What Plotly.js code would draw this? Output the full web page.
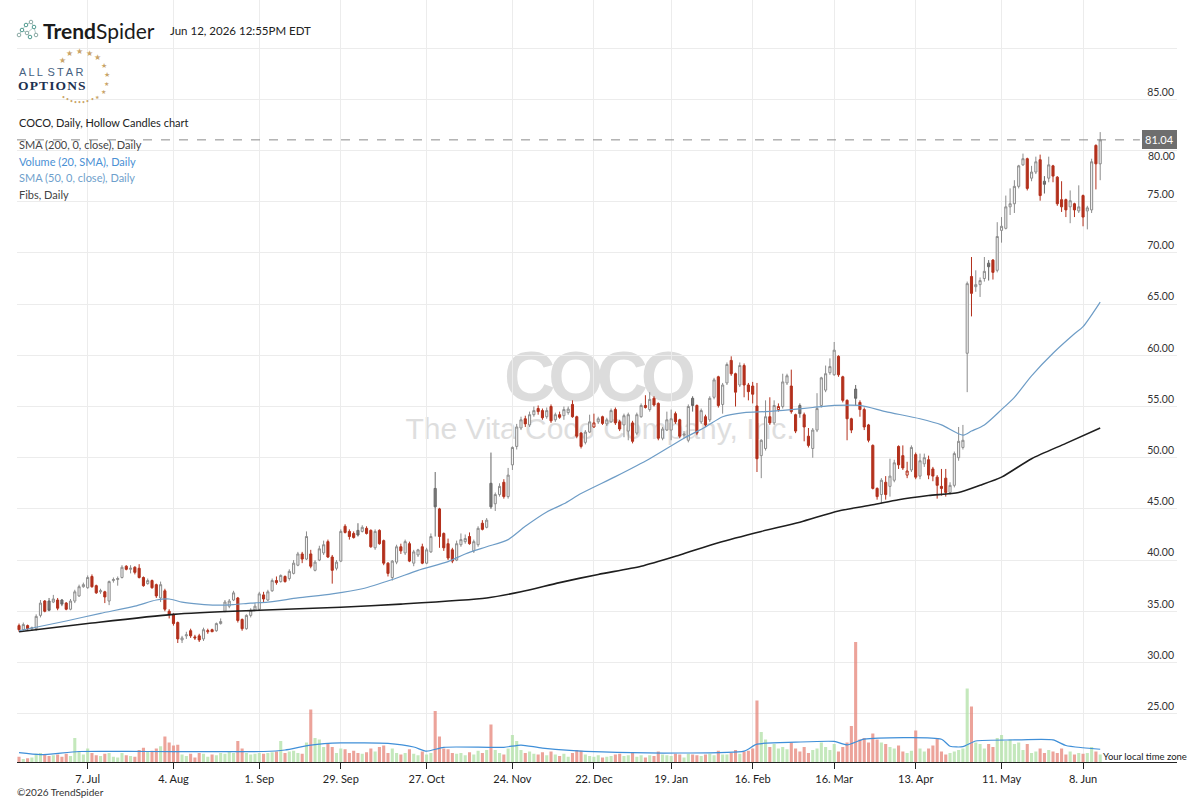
<!DOCTYPE html>
<html><head><meta charset="utf-8">
<script src="https://cdn.plot.ly/plotly-3.0.1.min.js"></script>
<style>
html,body{margin:0;padding:0;background:#fff;}
#wrap{position:relative;width:1200px;height:800px;overflow:hidden;background:#fff;}
.wm1{position:absolute;left:0;width:1200px;text-align:center;top:341px;line-height:1;font-family:'Liberation Sans',Arial,sans-serif;font-weight:bold;font-size:71px;color:#dcdcdc;letter-spacing:-7px;text-indent:-7px;}
.wm2{position:absolute;left:0;width:1200px;text-align:center;top:414px;line-height:1;font-family:'Liberation Sans',Arial,sans-serif;font-size:30px;color:#dedede;}
#chart{position:absolute;left:0;top:0;width:1200px;height:800px;}
</style></head>
<body>
<div id="wrap">
  <div class="wm1">COCO</div>
  <div class="wm2">The Vita Coco Company, Inc.</div>
  <div id="chart"></div>
</div>
<script>
// ---------- data ----------
const openP = [33.6,33.2,33.6,33.3,33.3,34.6,36.0,36.0,35.9,36.1,36.1,35.8,35.2,36.0,36.5,37.4,37.3,38.4,37.5,36.9,
36.9,36.0,38.0,38.1,38.3,39.4,39.1,39.3,39.2,38.3,37.7,38.0,37.6,36.3,37.0,35.0,34.7,33.9,32.2,32.6,
33.1,32.5,32.6,32.3,33.0,33.2,33.1,33.8,35.0,35.5,36.1,36.3,34.2,33.3,34.6,35.1,35.2,36.6,36.1,37.0,
38.0,37.9,38.4,38.2,38.7,39.5,40.6,40.1,40.6,39.0,40.0,40.7,41.8,40.3,39.2,39.9,43.3,42.8,42.6,42.9,
42.8,43.1,42.9,41.2,42.9,41.9,39.7,38.3,39.8,41.3,40.7,41.6,39.7,40.5,41.3,39.7,40.8,47.0,45.0,42.6,
41.6,41.0,40.0,41.5,41.8,42.3,40.9,41.5,43.6,43.2,47.5,45.5,46.4,47.6,46.2,49.3,51.1,52.9,53.8,53.2,
54.2,54.8,54.6,54.0,55.0,53.7,54.2,54.1,54.4,55.2,54.0,52.4,51.5,52.5,53.0,53.5,54.0,53.3,53.5,54.7,
53.5,53.2,52.6,53.4,52.4,54.0,55.1,54.7,55.8,55.3,51.9,52.7,52.7,54.3,53.7,52.2,51.7,55.8,55.1,53.5,
54.0,53.7,55.9,57.9,55.2,57.3,59.5,58.2,57.1,59.0,57.1,57.0,55.05,50.2,50.9,54.0,53.4,54.7,55.0,57.3,
57.0,54.2,55.1,54.2,52.1,50.9,52.7,55.1,56.6,58.3,58.1,59.9,57.9,55.6,53.8,56.7,55.4,54.7,53.2,51.2,
47.0,46.4,47.6,47.2,47.8,51.1,50.2,48.3,48.8,50.3,48.2,49.4,49.8,48.9,48.1,47.2,48.0,46.6,47.3,50.0,
51.0,60.2,67.7,66.7,66.9,67.5,69.0,69.3,68.3,72.2,72.4,74.5,74.8,76.5,78.6,79.2,77.3,77.9,79.1,77.0,
77.3,78.5,77.4,75.2,75.2,74.5,74.8,74.1,75.6,74.1,74.2,80.5,78.7];
const highP = [33.8,33.9,33.7,33.5,34.7,36.1,36.1,36.3,36.6,36.3,36.2,35.9,36.2,37.1,37.6,37.8,38.5,38.6,37.6,37.2,
37.0,38.0,38.3,38.4,39.5,39.5,39.5,39.4,39.6,38.4,38.2,38.1,37.7,37.9,37.2,35.2,34.8,34.0,32.6,33.0,
33.3,32.7,32.8,33.4,33.3,33.3,33.9,34.3,36.1,36.2,37.0,36.4,34.3,34.7,35.3,35.8,36.9,36.9,37.1,38.2,
38.4,38.6,38.5,39.1,40.0,40.8,40.8,42.8,41.0,40.0,41.4,41.9,42.0,40.5,40.0,43.0,43.5,43.0,42.8,43.6,
43.4,43.3,43.0,43.0,43.0,42.0,39.8,40.0,41.5,41.6,42.0,41.8,41.0,41.1,41.6,41.2,42.6,48.6,45.1,42.7,
42.1,41.2,41.9,42.6,42.5,42.7,42.0,43.3,43.9,44.1,50.5,46.6,47.5,47.9,49.0,51.1,53.3,54.0,54.1,54.5,
55.0,55.1,54.8,54.9,55.2,54.4,54.5,55.0,55.0,55.6,54.1,52.5,52.7,54.2,54.3,54.0,54.1,53.9,54.8,54.9,
53.7,54.3,54.4,53.6,54.4,55.3,56.1,56.4,56.0,55.4,53.0,54.5,54.7,54.5,53.8,52.6,55.2,56.0,55.2,54.8,
54.2,56.0,57.8,58.0,57.3,59.3,59.9,58.3,59.3,59.2,57.3,57.4,57.3,51.8,55.6,55.9,55.6,55.3,58.2,58.2,
58.6,54.3,55.3,54.4,52.9,52.9,56.3,57.9,59.0,59.7,61.3,60.0,58.0,55.7,53.9,57.1,55.6,54.9,53.3,51.3,
47.1,48.0,48.2,49.9,49.8,51.2,51.2,49.6,51.2,50.5,50.4,50.4,50.2,49.1,48.3,48.9,48.9,47.6,50.6,53.0,
53.2,67.2,69.6,68.3,67.6,69.6,69.3,69.4,73.0,73.5,75.6,76.3,77.1,78.6,79.7,79.3,78.5,79.4,79.6,77.5,
79.4,78.6,77.5,77.0,75.3,76.1,74.9,76.6,75.7,74.6,79.2,80.6,81.8];
const lowP = [33.0,33.1,33.1,33.1,33.1,34.4,34.9,35.0,35.8,35.1,35.5,35.1,35.1,35.8,36.4,37.3,37.2,37.3,36.7,36.7,
35.8,35.6,37.8,37.5,38.2,39.0,38.7,38.6,38.2,37.4,37.6,37.2,36.3,35.9,35.0,34.3,33.6,31.9,31.9,32.3,
32.4,32.2,32.0,32.1,32.8,33.0,33.0,33.7,34.9,35.3,36.0,33.9,33.1,33.2,34.4,35.0,35.0,35.9,36.0,36.9,
37.6,37.8,37.8,38.0,38.6,39.4,39.7,40.0,39.2,38.9,39.9,40.5,40.2,37.7,39.0,39.8,42.6,42.0,42.1,42.3,
42.7,42.5,41.2,41.0,41.5,39.5,38.4,38.0,39.6,40.6,40.5,39.8,39.4,40.3,39.6,39.6,40.7,42.3,41.2,40.9,
40.0,39.7,39.9,41.3,41.6,41.5,40.7,41.3,42.9,43.1,45.0,44.8,46.2,46.0,46.0,48.8,50.8,52.7,53.0,53.0,
54.0,54.2,53.7,53.8,53.4,53.5,53.8,53.7,54.2,53.9,51.9,50.9,51.3,52.4,52.9,53.3,53.2,53.1,53.4,53.2,
52.6,52.0,51.7,51.4,52.2,53.9,54.8,54.5,55.0,51.7,51.7,52.6,51.7,53.3,51.9,51.9,51.5,54.5,52.2,53.3,
53.0,53.5,55.7,54.9,54.3,57.1,58.0,55.0,56.9,55.9,55.6,55.3,48.6,48.0,50.7,53.2,53.2,54.5,54.8,57.1,
54.3,52.4,53.9,51.6,51.0,50.0,52.5,54.9,56.4,58.1,58.0,57.9,55.4,51.7,52.4,55.1,54.0,52.7,51.5,46.9,
45.9,45.5,45.9,46.2,47.6,48.9,48.8,48.0,48.6,47.9,47.9,49.1,47.9,47.7,46.0,46.3,46.2,46.4,47.1,49.7,
50.8,56.4,63.8,66.2,65.7,67.2,67.3,67.4,68.1,71.0,72.3,73.7,73.9,76.3,78.5,76.1,77.0,77.7,75.1,75.8,
76.9,76.9,74.6,74.0,73.5,72.9,73.5,73.9,72.6,72.3,73.9,76.2,77.1];
const closeP = [33.2,33.7,33.3,33.4,34.5,35.8,35.0,35.1,36.2,35.3,35.7,35.2,36.0,36.9,37.4,37.6,38.3,37.4,36.8,37.0,
36.4,37.9,38.1,38.2,39.3,39.1,39.2,38.8,38.3,37.5,38.0,37.3,36.5,37.6,35.2,34.7,33.8,32.3,32.4,32.7,
32.6,32.4,32.2,33.2,33.1,33.0,33.8,34.0,35.9,36.0,36.8,34.1,33.3,34.6,35.1,35.5,36.7,36.2,36.9,38.0,
37.8,38.5,37.9,38.9,39.7,40.6,40.1,42.3,39.4,39.8,41.1,41.5,40.3,39.0,39.8,42.8,42.7,42.3,42.2,42.45,
43.2,42.6,41.3,42.8,41.6,39.7,38.7,39.9,41.3,40.9,41.8,39.9,40.8,41.0,39.7,41.0,42.3,45.2,42.3,41.2,
40.2,39.9,41.6,42.0,42.1,41.6,41.8,43.1,43.0,43.9,45.2,46.4,47.2,46.2,48.3,51.0,53.0,53.7,53.3,54.2,
54.6,54.5,53.9,54.6,53.6,54.2,53.95,54.7,54.75,54.0,52.1,51.1,52.5,53.5,53.4,53.8,53.35,53.7,54.6,53.4,
52.8,54.1,54.2,51.6,54.2,55.1,54.9,55.7,55.15,51.9,52.8,53.7,53.8,53.5,52.1,52.3,55.0,55.1,52.4,54.6,
53.2,55.8,57.6,55.1,57.1,59.1,58.2,56.4,59.0,57.1,56.45,56.2,49.9,51.7,54.0,53.4,55.1,55.0,57.4,58.0,
54.5,52.6,54.3,53.0,51.2,52.7,54.8,57.8,58.2,58.9,60.5,58.1,55.6,53.8,52.7,55.8,54.7,53.0,51.7,47.0,
46.2,47.8,46.4,48.2,49.5,49.3,49.0,48.7,51.0,48.1,49.7,50.0,48.3,48.2,47.3,47.0,46.6,47.3,50.4,51.6,
51.7,67.0,66.05,66.9,67.3,68.2,68.65,68.1,71.6,72.6,74.5,74.8,76.5,78.5,79.2,76.3,77.9,78.9,75.6,76.7,
78.6,77.5,74.8,74.5,74.2,75.1,74.2,74.5,73.5,74.4,78.9,78.7,81.04];
// volume in millions of shares
const volumeM = [0.35,0.2,0.25,0.3,0.55,0.6,0.5,0.4,0.45,0.5,
0.35,0.55,0.4,1.6,0.7,0.5,0.9,0.6,0.45,0.4,
0.55,0.6,0.35,0.3,0.6,0.45,0.4,0.35,0.8,0.95,
0.7,0.75,0.9,1.05,1.7,1.3,1.1,1.15,0.5,0.4,
0.55,0.3,0.6,0.55,0.35,0.5,0.45,0.6,0.55,0.7,
0.6,1.4,0.9,0.6,0.5,0.55,0.6,0.55,0.6,0.65,
0.7,1.4,0.6,0.7,0.75,0.6,0.55,1.3,3.5,1.6,
1.5,1.0,1.2,1.0,0.6,0.9,0.85,0.6,0.75,0.6,
0.55,0.65,0.9,0.7,1.0,1.1,0.6,0.9,0.6,0.5,
0.6,0.85,0.55,0.45,0.7,0.5,0.6,3.4,1.7,0.9,
0.85,0.6,0.55,0.6,0.45,0.65,0.5,0.75,0.6,0.8,
2.5,0.8,0.6,0.5,0.9,1.8,1.4,0.8,0.6,0.7,
0.55,0.5,0.65,0.45,0.7,0.5,0.4,0.55,0.35,0.6,
0.8,0.75,0.5,0.4,0.35,0.45,0.3,0.35,0.4,0.5,
0.55,0.4,0.45,0.6,0.35,0.45,0.3,0.45,0.4,0.7,
0.5,0.45,0.4,0.55,0.5,0.3,0.55,0.5,0.45,0.4,
0.5,0.55,0.45,0.75,0.5,0.5,0.6,0.8,0.55,0.7,
0.75,0.9,4.1,2.0,1.5,1.0,1.2,0.9,1.0,0.85,
1.3,0.9,0.7,1.0,0.6,0.8,0.9,1.3,1.0,0.8,
1.2,0.7,1.0,1.3,2.4,8.0,1.5,1.6,1.3,1.9,
1.5,1.3,1.2,1.0,0.9,1.1,0.7,0.6,0.75,2.1,
0.9,0.7,0.9,1.1,1.6,0.7,0.5,0.6,0.7,0.8,
0.9,4.9,3.7,1.3,1.2,0.9,1.2,1.0,1.6,1.8,
1.4,1.5,1.2,1.3,0.8,1.2,0.6,0.7,0.9,0.6,
0.8,0.7,0.6,0.9,0.5,0.7,0.5,0.6,0.55,0.6,
1.0,0.7,0.5];
// indicator lines read at sample sessions
const sma50Idx = [0,11,19,27,32,35,38,42,46,50,54,58,65,73,80,87,93,100,104,109,114,118,123,127,131,139,147,155,160,164,169,174,180,185,190,196,202,210,215,220,222,225,229,232,236,241,246,248,252];
const sma50Val = [33.1,34.05,34.8,35.5,36.1,36.2,35.9,35.7,35.6,35.65,35.8,35.9,36.3,36.7,37.2,38.1,39.0,39.85,40.6,41.3,42.0,43.3,44.7,45.5,46.5,48.15,49.9,51.9,53.0,54.0,54.4,54.5,54.7,54.9,55.1,55.1,54.5,53.8,53.2,52.2,52.6,53.2,54.7,55.9,58.0,60.2,62.1,62.8,65.2];
const sma200Idx = [0,16,36,56,75,89,109,117,126,135,145,154,163,173,182,191,199,205,212,219,224,229,236,244,252];
const sma200Val = [33.0,33.8,34.7,35.1,35.4,35.7,36.3,36.9,37.8,38.6,39.4,40.5,41.7,42.8,43.7,44.8,45.4,45.9,46.3,46.6,47.3,48.1,49.9,51.4,52.9];
const volSmaIdx = [0,5,14,30,57,62,68,75,86,92,95,99,113,117,122,136,154,169,172,181,190,193,197,215,217,220,223,232,241,244,248,252];
const volSmaVal = [0.62,0.49,0.7,0.7,0.7,0.8,1.13,1.27,1.24,1.0,0.72,0.98,0.98,1.13,0.93,0.67,0.6,0.72,1.19,1.32,1.37,1.14,1.52,1.52,1.05,1.02,1.4,1.47,1.47,1.1,0.95,0.85];
// calendar
const firstSession = '2025-06-11';
const holidays = ['2025-06-19','2025-07-04','2025-09-01','2025-11-27','2025-12-25','2026-01-01','2026-01-19','2026-02-16','2026-04-03','2026-05-25','2026-06-19','2026-07-03'];
const tickDates = ['2025-07-07','2025-08-04','2025-09-01','2025-09-29','2025-10-27','2025-11-24','2025-12-22','2026-01-19','2026-02-16','2026-03-16','2026-04-13','2026-05-11','2026-06-08','2026-07-06'];
const tickLabels = ['7. Jul','4. Aug','1. Sep','29. Sep','27. Oct','24. Nov','22. Dec','19. Jan','16. Feb','16. Mar','13. Apr','11. May','8. Jun','6. Jul'];
const priceTicks = [25,30,35,40,45,50,55,60,65,70,75,80,85,90];

// ---------- build ----------
function tradingDays(start, n, hol){
  const out=[]; const d=new Date(start+'T12:00:00Z');
  while(out.length<n){
    const dow=d.getUTCDay(); const s=d.toISOString().slice(0,10);
    if(dow!==0 && dow!==6 && hol.indexOf(s)<0) out.push(s);
    d.setUTCDate(d.getUTCDate()+1);
  }
  return out;
}
const sessions = tradingDays(firstSession, 320, holidays);
const tickVals = tickDates.map(t => sessions.findIndex(s => s >= t));

const N = closeP.length;
const idx = closeP.map((_, i) => i);
const prevClose = i => i === 0 ? openP[0] : closeP[i-1];
const upIdx = idx.filter(i => closeP[i] >= prevClose(i));
const dnIdx = idx.filter(i => closeP[i] < prevClose(i));
const pick = (a, ids) => ids.map(i => a[i]);

const GRAY = '#8c8c8c', GRAYFILL = '#7a7a7a', RED = '#b3301c';
const candleUp = {
  type:'candlestick', x: upIdx, open: pick(openP,upIdx), high: pick(highP,upIdx), low: pick(lowP,upIdx), close: pick(closeP,upIdx),
  increasing:{line:{color:GRAY,width:1}, fillcolor:'#f4f4f4'},
  decreasing:{line:{color:'#666',width:1}, fillcolor:GRAYFILL},
  whiskerwidth:0, hoverinfo:'skip', xaxis:'x', yaxis:'y'
};
const candleDn = {
  type:'candlestick', x: dnIdx, open: pick(openP,dnIdx), high: pick(highP,dnIdx), low: pick(lowP,dnIdx), close: pick(closeP,dnIdx),
  increasing:{line:{color:RED,width:1}, fillcolor:'#ffffff'},
  decreasing:{line:{color:RED,width:1}, fillcolor:RED},
  whiskerwidth:0, hoverinfo:'skip', xaxis:'x', yaxis:'y'
};
const volColors = idx.map(i => closeP[i] >= openP[i] ? 'rgba(176,224,166,0.75)' : 'rgba(229,132,120,0.75)');
const volBars = {type:'bar', x: idx, y: volumeM, marker:{color: volColors, line:{width:0}}, width:0.72, yaxis:'y2', hoverinfo:'skip'};
const volSma = {type:'scatter', mode:'lines', x: volSmaIdx, y: volSmaVal, line:{color:'#3f8fd8', width:1.2, shape:'spline', smoothing:0.6}, yaxis:'y2', hoverinfo:'skip'};
const sma50 = {type:'scatter', mode:'lines', x: sma50Idx, y: sma50Val, line:{color:'#6d9cc6', width:1.2, shape:'spline', smoothing:0.7}, hoverinfo:'skip'};
const sma200 = {type:'scatter', mode:'lines', x: sma200Idx, y: sma200Val, line:{color:'#1e1e1e', width:1.6, shape:'spline', smoothing:0.7}, hoverinfo:'skip'};

// pixel helpers for layout decorations (plot area 17..1177 x 0..762)
const PL=17, PW=1160, PH=762;
const fx = x => (x-PL)/PW;
const fy = y => 1 - y/PH;
const FONT = 'Lato, "Liberation Sans", Arial, sans-serif';

const lastClose = closeP[N-1];
const ann = [];
function txt(t, x, y, size, color, opt){
  ann.push(Object.assign({text:t, xref:'paper', yref:'paper', x:fx(x), y:fy(y), xanchor:'left', yanchor:'middle', showarrow:false,
    font:{family:FONT, size:size, color:color}}, opt||{}));
}
txt('<b>Trend</b>Spider', 41, 30, 21, '#1b1b1b');
txt('Jun 12, 2026 12:55PM EDT', 168, 30, 11.5, '#222');
txt('A\u2009L\u2009L\u2009\u2009S\u2009T\u2009A\u2009R', 17, 72, 11, '#45617f', {font:{family:'"Liberation Sans", Arial, sans-serif', size:11, color:'#45617f'}});
txt('<b>O\u200aP\u200aT\u200aI\u200aO\u200aN\u200aS</b>', 16, 86, 13.5, '#1d3150', {font:{family:'"Liberation Serif", "DejaVu Serif", serif', size:13.5, color:'#1d3150'}});
const starPts = [[62,60,8],[69,53,8],[79,51,8],[89,53,8],[97,57,8],[104,65,7],[107,74,7],[106,83,6],[103,91,6],[97,97,5]];
starPts.forEach(p => ann.push({text:'\u2605', xref:'paper', yref:'paper', x:fx(p[0]), y:fy(p[1]), xanchor:'center', yanchor:'middle', showarrow:false, font:{size:p[2], color:'#c9a468'}}));
const dotPts = [[92,99],[87,101],[83,102],[79,102],[75,102],[71,101],[67,99],[63,97]];
dotPts.forEach(p => ann.push({text:'\u2022', xref:'paper', yref:'paper', x:fx(p[0]), y:fy(p[1]), xanchor:'center', yanchor:'middle', showarrow:false, font:{size:5, color:'#c9a468'}}));
txt('COCO, Daily, Hollow Candles chart', 17, 122, 11, '#222');
txt('SMA (200, 0, close), Daily', 17, 144, 11, '#444');
txt('Volume (20, SMA), Daily', 17, 161, 11, '#4a90d4');
txt('SMA (50, 0, close), Daily', 17, 177, 11, '#6f9fcc');
txt('Fibs, Daily', 17, 194, 11, '#444');
txt('\u00a92026 TrendSpider', 15, 792, 10, '#333');
txt('Your local time zone', 1101, 756, 9.5, '#222');
// the 80.00 price label sits just under the last-price box, as in the reference
ann.push({text:'80.00', xref:'paper', yref:'paper', x:1, y:fy(156), xanchor:'right', yanchor:'middle', showarrow:false,
  font:{family:FONT, size:10.5, color:'#333'}});
ann.push({text: lastClose.toFixed(2), xref:'paper', yref:'y', x:1, y:lastClose, xanchor:'right', yanchor:'middle', showarrow:false,
  bgcolor:'#6e6e6e', bordercolor:'#6e6e6e', borderpad:2, font:{family:FONT, size:11, color:'#fff'}});

const shapes = [
  {type:'line', xref:'paper', yref:'y', x0:0, x1:0.968, y0:lastClose, y1:lastClose, line:{color:'#8a8a8a', width:1, dash:'dash'}},
];
// TrendSpider icon
const icon = [[19,35],[22,30],[27,33],[26,25],[31,22],[34,27],[36,35],[30,37]];
const iconEdges = [[0,1],[1,2],[1,3],[3,4],[4,5],[2,5],[5,6],[2,7]];
iconEdges.forEach(e => shapes.push({type:'line', xref:'paper', yref:'paper', x0:fx(icon[e[0]][0]), y0:fy(icon[e[0]][1]), x1:fx(icon[e[1]][0]), y1:fy(icon[e[1]][1]), line:{color:'#9fbdb8', width:0.8}}));
icon.forEach((p,k) => shapes.push({type:'circle', xref:'paper', yref:'paper', x0:fx(p[0]-1.8), x1:fx(p[0]+1.8), y0:fy(p[1]+1.8), y1:fy(p[1]-1.8), line:{color: k%2 ? '#4f9a8f' : '#8aa9a4', width:1}, fillcolor:'#fff'}));

const layout = {
  width:1200, height:800,
  margin:{l:PL, r:1200-PL-PW, t:0, b:800-PH},
  paper_bgcolor:'rgba(0,0,0,0)', plot_bgcolor:'rgba(0,0,0,0)',
  showlegend:false,
  font:{family:FONT, size:11, color:'#222'},
  xaxis:{range:[-0.47, 269.9], tickmode:'array', tickvals:tickVals, ticktext:tickLabels, showgrid:true, gridcolor:'#ececec', gridwidth:1,
    zeroline:false, showline:true, linecolor:'#222', linewidth:1.3, ticks:'outside', ticklen:6, tickcolor:'#222', tickwidth:1,
    tickfont:{family:FONT, size:11, color:'#222'}, rangeslider:{visible:false}, fixedrange:true},
  yaxis:{range:[20.28, 94.7], side:'right', tickmode:'array', tickvals:priceTicks,
    ticktext: priceTicks.map(v => (v === 90 || v === 80) ? '' : v.toFixed(2)), ticklabelposition:'inside top',
    showgrid:true, gridcolor:'#ececec', zeroline:false, showline:false, ticks:'',
    tickfont:{family:FONT, size:10.5, color:'#333'}, fixedrange:true},
  yaxis2:{overlaying:'y', range:[0, 50.8], visible:false, fixedrange:true},
  shapes: shapes,
  annotations: ann
};

Plotly.newPlot('chart', [candleUp, candleDn, sma200, sma50, volBars, volSma], layout, {staticPlot:true, displayModeBar:false});
</script>
</body></html>
